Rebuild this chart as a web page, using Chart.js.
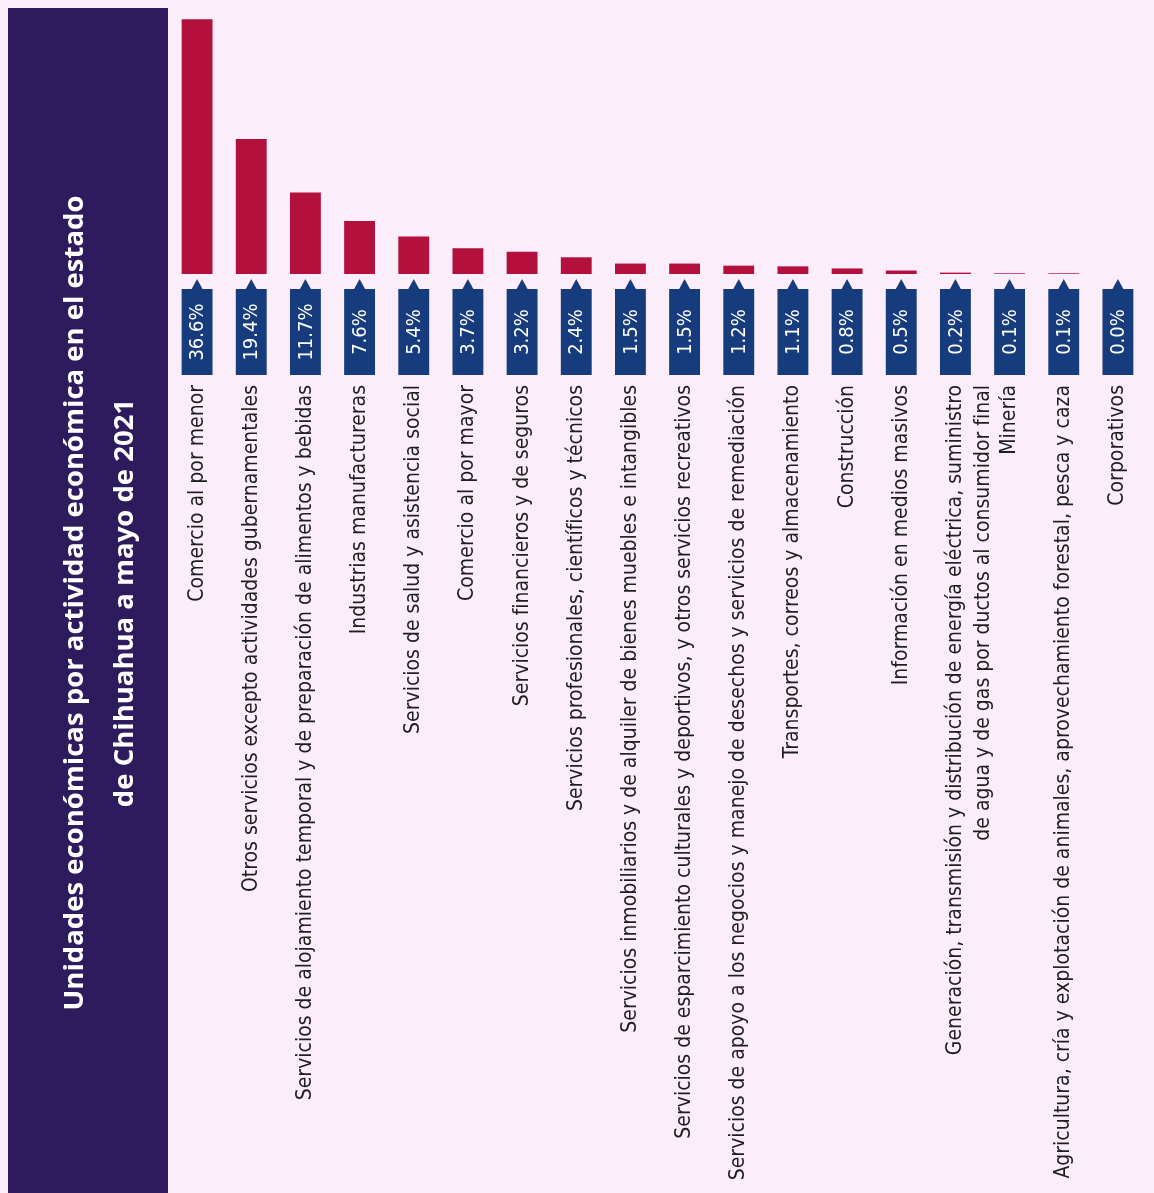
<!DOCTYPE html>
<html lang="es">
<head>
  <meta charset="utf-8" />
  <title>Unidades económicas por actividad económica - Chihuahua 2021</title>
  <script src="https://cdn.jsdelivr.net/npm/chart.js"></script>
  <style>
    * { box-sizing: border-box; margin: 0; padding: 0; }
    body { background: #fbeefa; width: 1154px; height: 1193px; overflow: hidden; }
    canvas { display: block; }
  </style>
</head>
<body>
  <canvas id="chart" width="1154" height="1193"></canvas>

  <script>
    const titleLines = [
      'Unidades económicas por actividad económica en el estado',
      'de Chihuahua a mayo de 2021'
    ];

    const categories = [
      'Comercio al por menor',
      'Otros servicios excepto actividades gubernamentales',
      'Servicios de alojamiento temporal y de preparación de alimentos y bebidas',
      'Industrias manufactureras',
      'Servicios de salud y asistencia social',
      'Comercio al por mayor',
      'Servicios financieros y de seguros',
      'Servicios profesionales, científicos y técnicos',
      'Servicios inmobiliarios y de alquiler de bienes muebles e intangibles',
      'Servicios de esparcimiento culturales y deportivos, y otros servicios recreativos',
      'Servicios de apoyo a los negocios y manejo de desechos y servicios de remediación',
      'Transportes, correos y almacenamiento',
      'Construcción',
      'Información en medios masivos',
      ['Generación, transmisión y distribución de energía eléctrica, suministro',
       'de agua y de gas por ductos al consumidor final'],
      'Minería',
      'Agricultura, cría y explotación de animales, aprovechamiento forestal, pesca y caza',
      'Corporativos'
    ];

    const shares = [36.6, 19.4, 11.7, 7.6, 5.4, 3.7, 3.2, 2.4, 1.5, 1.5, 1.2, 1.1, 0.8, 0.5, 0.2, 0.1, 0.1, 0.0];

    const shareLabels = shares.map(v => v.toFixed(1) + '%');

    const NARROW = '"DejaVu Sans Condensed", "Liberation Sans Narrow", Roboto, sans-serif';

    // pink page + purple band behind the title
    const backdrop = {
      id: 'backdrop',
      beforeDraw(chart) {
        const ctx = chart.ctx;
        ctx.save();
        ctx.fillStyle = '#fbeefa';
        ctx.fillRect(0, 0, chart.width, chart.height);
        ctx.fillStyle = '#2e1b5e';
        ctx.fillRect(8, 8, 160, chart.height - 8);
        ctx.restore();
      }
    };

    // navy tag with the percentage under every bar
    const valueTags = {
      id: 'valueTags',
      afterDatasetsDraw(chart) {
        const { ctx, chartArea } = chart;
        const meta = chart.getDatasetMeta(0);
        const top = chartArea.bottom + 15;
        const h = 86;
        meta.data.forEach((bar, i) => {
          const x = bar.x, w = bar.width;
          ctx.save();
          ctx.fillStyle = '#163c7d';
          ctx.fillRect(x - w / 2, top, w, h);
          ctx.beginPath();
          ctx.moveTo(x - 6, top + 1);
          ctx.lineTo(x, top - 10);
          ctx.lineTo(x + 6, top + 1);
          ctx.closePath();
          ctx.fill();
          ctx.translate(x, top + h / 2);
          ctx.rotate(-Math.PI / 2);
          ctx.fillStyle = '#ffffff';
          ctx.font = '20px ' + NARROW;
          ctx.textAlign = 'center';
          ctx.textBaseline = 'middle';
          ctx.fillText(shareLabels[i], 0, 1);
          ctx.restore();
        });
      }
    };

    new Chart(document.getElementById('chart'), {
      type: 'bar',
      data: {
        labels: categories,
        datasets: [{
          data: shares,
          backgroundColor: '#b3103d',
          barPercentage: 0.57,
          categoryPercentage: 1
        }]
      },
      options: {
        responsive: false,
        animation: false,
        layout: { padding: { top: 13, right: 9, left: 0, bottom: 0 } },
        plugins: {
          legend: { display: false },
          tooltip: { enabled: false },
          title: {
            display: true,
            position: 'left',
            text: titleLines,
            color: '#ffffff',
            font: { family: '"Open Sans", sans-serif', weight: 'bold', size: 27.5, lineHeight: 50 / 27.5 },
            padding: { top: 50, bottom: 20 }
          }
        },
        scales: {
          x: {
            grid: { display: false, drawTicks: false },
            border: { display: false },
            ticks: {
              autoSkip: false,
              minRotation: 90,
              maxRotation: 90,
              padding: 111,
              color: '#1e1e1e',
              font: { family: NARROW, size: 21, lineHeight: 1.35 }
            },
            afterFit(scale) {
              scale.height = 1193 - 274;
              // tick padding only pushes the labels down, not the plot sideways
              scale.paddingLeft = 0;
              scale.paddingRight = 0;
            }
          },
          y: { display: false, min: 0, max: 37.5 }
        }
      },
      plugins: [backdrop, valueTags]
    });
  </script>
</body>
</html>
